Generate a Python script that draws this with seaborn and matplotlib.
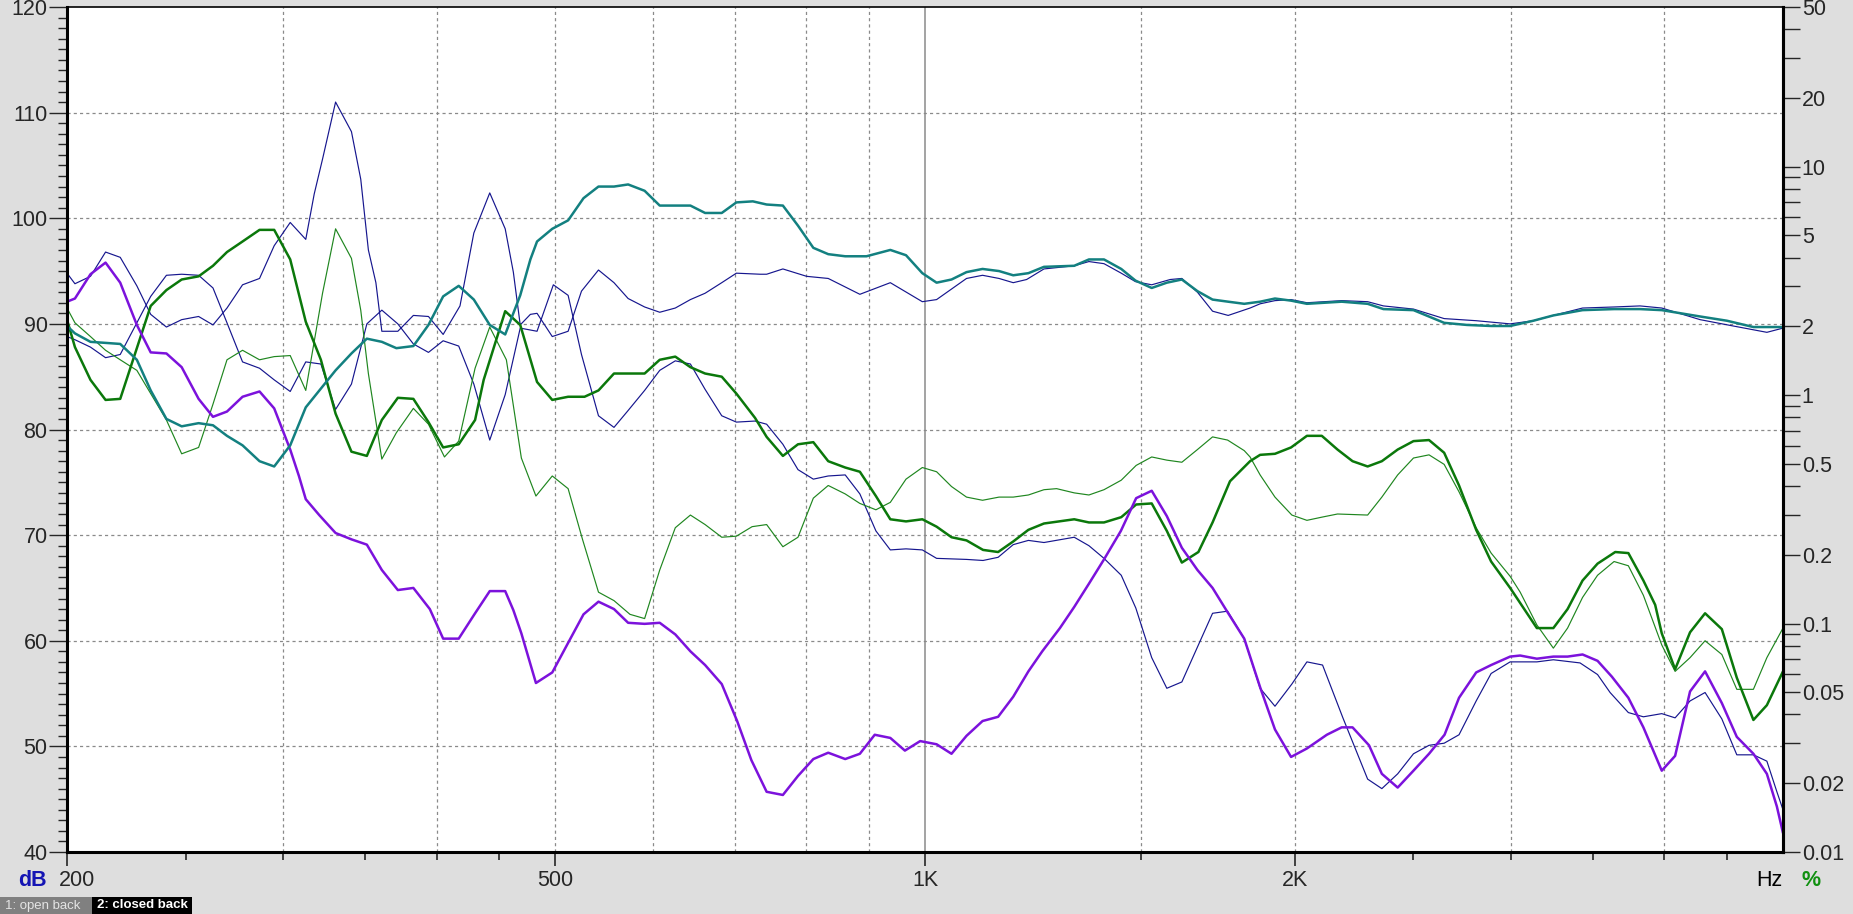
import matplotlib
matplotlib.use("Agg")
import matplotlib.pyplot as plt
import matplotlib.transforms as mtransforms
from matplotlib.patches import Rectangle
from matplotlib.ticker import FixedLocator, FixedFormatter, NullFormatter, MultipleLocator
import seaborn as sns
import pandas as pd

# closed back, response (teal, thick)
closed_resp_freq = [200, 203, 209, 215, 221, 228, 234, 241, 248, 256,
                    263, 270, 278, 287, 295, 304, 313, 331, 341, 351,
                    361, 371, 383, 394, 405, 417, 429, 442, 455, 468,
                    477, 483, 497, 512, 527, 542, 558, 573, 591, 608,
                    644, 662, 683, 702, 724, 743, 766, 788, 811, 834,
                    861, 896, 937, 965, 995, 1022, 1051, 1081, 1114, 1149,
                    1180, 1214, 1250, 1323, 1360, 1399, 1445, 1484, 1530, 1574,
                    1619, 1667, 1715, 1766, 1820, 1875, 1928, 1987, 2047, 2185,
                    2294, 2363, 2500, 2648, 2763, 2892, 2997, 3131, 3250, 3433,
                    3642, 3824, 3983, 4280, 4500, 4730, 5000]
closed_resp_db = [89.8, 89.1, 88.3, 88.2, 88.1, 86.6, 83.7, 81.0, 80.3, 80.6,
                  80.4, 79.4, 78.5, 77.0, 76.5, 78.5, 82.1, 85.6, 87.2, 88.6,
                  88.3, 87.7, 87.9, 89.9, 92.6, 93.6, 92.3, 89.9, 89.0, 92.7,
                  96.1, 97.8, 99.0, 99.8, 101.9, 103.0, 103.0, 103.2, 102.6, 101.2,
                  101.2, 100.5, 100.5, 101.5, 101.6, 101.3, 101.2, 99.3, 97.2, 96.6,
                  96.4, 96.4, 97.0, 96.5, 94.8, 93.9, 94.2, 94.9, 95.2, 95.0,
                  94.6, 94.8, 95.4, 95.5, 96.1, 96.1, 95.2, 94.1, 93.4, 93.9,
                  94.2, 93.1, 92.3, 92.1, 91.9, 92.1, 92.4, 92.2, 91.9, 92.1,
                  91.9, 91.4, 91.3, 90.1, 89.9, 89.8, 89.8, 90.3, 90.8, 91.3,
                  91.4, 91.4, 91.3, 90.7, 90.3, 89.7, 89.7]

# open back, response (navy, thin)
open_resp_freq = [200, 203, 209, 215, 221, 228, 234, 241, 248, 256,
                  263, 270, 278, 287, 295, 304, 313, 318, 323, 331,
                  341, 347, 352, 357, 361, 372, 383, 394, 405, 418,
                  429, 442, 455, 462, 468, 477, 483, 497, 512, 525,
                  542, 558, 573, 591, 608, 626, 644, 662, 683, 702,
                  734, 743, 766, 801, 834, 885, 937, 995, 1022, 1081,
                  1114, 1149, 1180, 1210, 1250, 1323, 1360, 1399, 1445, 1484,
                  1530, 1584, 1619, 1667, 1715, 1766, 1840, 1875, 1928, 1987,
                  2047, 2185, 2294, 2363, 2500, 2648, 2812, 2997, 3131, 3250,
                  3433, 3642, 3824, 3983, 4280, 4554, 4851, 5000]
open_resp_db = [94.8, 93.8, 94.5, 96.8, 96.3, 93.6, 90.9, 89.7, 90.4, 90.7,
                89.9, 91.5, 93.7, 94.3, 97.4, 99.6, 98.0, 102.3, 105.6, 111.0,
                108.2, 103.7, 97.0, 93.9, 89.3, 89.3, 90.8, 90.7, 89.0, 91.7,
                98.6, 102.4, 99.0, 94.9, 89.9, 90.9, 91.0, 88.8, 89.3, 93.1,
                95.1, 93.9, 92.4, 91.6, 91.1, 91.5, 92.3, 92.9, 93.9, 94.8,
                94.7, 94.7, 95.2, 94.5, 94.3, 92.8, 93.9, 92.1, 92.3, 94.3,
                94.6, 94.3, 93.9, 94.2, 95.2, 95.5, 95.9, 95.7, 94.8, 94.0,
                93.7, 94.2, 94.3, 93.0, 91.2, 90.8, 91.5, 91.9, 92.2, 92.3,
                92.0, 92.2, 92.1, 91.7, 91.4, 90.5, 90.3, 90.0, 90.3, 90.8,
                91.5, 91.6, 91.7, 91.5, 90.4, 89.8, 89.2, 89.6]

# open back, lower curve (navy, thin)
open_low_freq = [200, 203, 209, 215, 221, 228, 234, 241, 248, 256,
                 263, 270, 278, 287, 295, 304, 313, 322, 331, 341,
                 351, 361, 372, 383, 394, 405, 417, 429, 442, 455,
                 468, 483, 498, 512, 525, 542, 558, 573, 591, 608,
                 626, 644, 662, 683, 702, 727, 743, 766, 788, 811,
                 834, 861, 885, 912, 937, 965, 995, 1022, 1081, 1115,
                 1147, 1180, 1214, 1250, 1323, 1360, 1399, 1445, 1485, 1530,
                 1574, 1619, 1667, 1715, 1764, 1820, 1875, 1928, 1990, 2047,
                 2108, 2190, 2294, 2356, 2427, 2500, 2574, 2648, 2723, 2812,
                 2892, 2997, 3151, 3250, 3417, 3531, 3615, 3741, 3848, 3983,
                 4084, 4200, 4320, 4458, 4585, 4730, 4851, 4943, 5000]
open_low_db = [88.8, 88.5, 87.8, 86.8, 87.1, 90.1, 92.6, 94.6, 94.7, 94.6,
               93.4, 90.1, 86.4, 85.8, 84.7, 83.6, 86.4, 86.2, 81.9, 84.3,
               90.0, 91.3, 90.0, 88.1, 87.3, 88.4, 87.9, 84.3, 79.0, 83.3,
               89.6, 89.3, 93.7, 92.7, 87.1, 81.3, 80.2, 81.8, 83.7, 85.6,
               86.5, 86.2, 83.8, 81.3, 80.7, 80.8, 80.5, 78.6, 76.2, 75.3,
               75.6, 75.7, 73.9, 70.4, 68.6, 68.7, 68.6, 67.8, 67.7, 67.6,
               67.9, 69.1, 69.5, 69.3, 69.8, 69.0, 67.8, 66.2, 63.1, 58.4,
               55.5, 56.1, 59.4, 62.6, 62.8, 60.2, 55.5, 53.8, 55.9, 58.0,
               57.7, 52.7, 46.9, 46.0, 47.4, 49.3, 50.1, 50.3, 51.1, 54.3,
               56.9, 58.0, 58.0, 58.2, 57.9, 56.8, 55.1, 53.2, 52.8, 53.1,
               52.7, 54.3, 55.1, 52.6, 49.2, 49.2, 48.6, 45.7, 44.0]

# closed back, lower curve (purple, thick)
closed_low_freq = [200, 203, 209, 215, 221, 228, 234, 241, 248, 256,
                   263, 270, 278, 287, 295, 304, 309, 313, 321, 331,
                   341, 351, 361, 372, 383, 395, 405, 417, 430, 442,
                   455, 462, 469, 482, 497, 512, 527, 542, 558, 573,
                   591, 608, 626, 644, 662, 683, 703, 722, 743, 766,
                   788, 811, 834, 861, 885, 910, 937, 963, 991, 1022,
                   1051, 1081, 1114, 1147, 1180, 1214, 1246, 1288, 1323, 1360,
                   1399, 1444, 1486, 1530, 1574, 1619, 1667, 1715, 1764, 1820,
                   1875, 1928, 1987, 2047, 2125, 2185, 2230, 2300, 2356, 2427,
                   2500, 2574, 2650, 2723, 2812, 2892, 2997, 3054, 3151, 3250,
                   3338, 3433, 3531, 3627, 3741, 3848, 3983, 4084, 4200, 4320,
                   4458, 4585, 4730, 4851, 4943, 5000]
closed_low_db = [92.1, 92.4, 94.7, 95.8, 93.9, 89.9, 87.3, 87.2, 85.9, 82.9,
                 81.2, 81.7, 83.1, 83.6, 82.0, 78.1, 75.6, 73.4, 71.9, 70.2,
                 69.6, 69.1, 66.7, 64.8, 65.0, 63.0, 60.2, 60.2, 62.6, 64.7,
                 64.7, 62.9, 60.7, 56.0, 57.0, 59.8, 62.5, 63.7, 63.0, 61.7,
                 61.6, 61.7, 60.6, 59.0, 57.7, 55.9, 52.4, 48.7, 45.7, 45.4,
                 47.2, 48.8, 49.4, 48.8, 49.3, 51.1, 50.8, 49.6, 50.5, 50.2,
                 49.3, 51.0, 52.4, 52.8, 54.7, 57.1, 59.0, 61.2, 63.2, 65.4,
                 67.7, 70.4, 73.5, 74.2, 71.8, 68.8, 66.7, 65.0, 62.7, 60.2,
                 55.6, 51.6, 49.0, 49.8, 51.1, 51.8, 51.8, 50.1, 47.4, 46.1,
                 47.7, 49.3, 51.1, 54.6, 57.0, 57.7, 58.5, 58.6, 58.3, 58.5,
                 58.5, 58.7, 58.1, 56.6, 54.6, 51.8, 47.7, 49.1, 55.2, 57.1,
                 54.1, 50.9, 49.3, 47.4, 44.3, 41.8]

# closed back, green thick
closed_green_freq = [200, 203, 209, 215, 221, 228, 234, 241, 248, 256,
                     263, 270, 278, 287, 295, 304, 313, 322, 331, 341,
                     351, 361, 372, 383, 394, 405, 417, 430, 437, 455,
                     468, 483, 497, 512, 528, 542, 558, 573, 591, 608,
                     626, 644, 662, 683, 702, 727, 743, 766, 788, 811,
                     834, 861, 885, 912, 937, 965, 995, 1022, 1051, 1081,
                     1115, 1147, 1180, 1214, 1250, 1323, 1360, 1399, 1445, 1486,
                     1530, 1574, 1619, 1670, 1715, 1772, 1840, 1875, 1928, 1987,
                     2047, 2105, 2168, 2230, 2294, 2356, 2427, 2500, 2574, 2648,
                     2723, 2812, 2892, 2997, 3151, 3250, 3338, 3433, 3531, 3650,
                     3741, 3848, 3934, 3983, 4084, 4200, 4320, 4458, 4585, 4730,
                     4851, 5000]
closed_green_db = [90.4, 87.8, 84.7, 82.8, 82.9, 87.7, 91.7, 93.2, 94.2, 94.5,
                   95.5, 96.8, 97.8, 98.9, 98.9, 96.1, 90.2, 86.6, 81.5, 77.9,
                   77.5, 80.9, 83.0, 82.9, 80.7, 78.3, 78.6, 80.9, 84.7, 91.2,
                   89.9, 84.5, 82.8, 83.1, 83.1, 83.7, 85.3, 85.3, 85.3, 86.6,
                   86.9, 85.9, 85.3, 85.0, 83.4, 81.1, 79.3, 77.5, 78.6, 78.8,
                   77.0, 76.4, 76.0, 73.7, 71.5, 71.3, 71.5, 70.8, 69.8, 69.5,
                   68.6, 68.4, 69.4, 70.5, 71.1, 71.5, 71.2, 71.2, 71.7, 72.9,
                   73.0, 70.4, 67.4, 68.4, 71.2, 75.1, 77.0, 77.6, 77.7, 78.3,
                   79.4, 79.4, 78.1, 77.0, 76.5, 77.0, 78.1, 78.9, 79.0, 77.8,
                   74.7, 70.5, 67.5, 65.0, 61.2, 61.2, 63.0, 65.7, 67.3, 68.4,
                   68.3, 65.7, 63.4, 60.7, 57.3, 60.8, 62.6, 61.1, 56.5, 52.5,
                   53.9, 57.1]

# open back, green thin
open_green_freq = [200, 203, 209, 215, 221, 228, 234, 241, 248, 256,
                   263, 270, 278, 287, 295, 304, 313, 323, 331, 341,
                   347, 352, 361, 371, 383, 394, 406, 417, 430, 442,
                   456, 469, 482, 497, 512, 526, 542, 558, 575, 591,
                   608, 626, 644, 662, 683, 702, 723, 743, 766, 788,
                   811, 834, 861, 885, 912, 937, 965, 995, 1022, 1051,
                   1081, 1114, 1149, 1180, 1214, 1250, 1280, 1323, 1360, 1399,
                   1445, 1486, 1530, 1574, 1619, 1667, 1715, 1764, 1820, 1840,
                   1875, 1928, 1990, 2047, 2105, 2168, 2294, 2356, 2427, 2500,
                   2574, 2648, 2723, 2812, 2892, 2997, 3054, 3151, 3250, 3338,
                   3433, 3531, 3642, 3741, 3848, 3983, 4084, 4200, 4320, 4458,
                   4585, 4730, 4851, 5000]
open_green_db = [91.5, 90.1, 88.8, 87.5, 86.6, 85.6, 83.4, 80.9, 77.7, 78.3,
                 82.4, 86.6, 87.5, 86.6, 86.9, 87.0, 83.7, 92.9, 99.0, 96.2,
                 91.3, 85.3, 77.2, 79.7, 82.0, 80.5, 77.4, 78.9, 85.8, 89.7,
                 86.6, 77.3, 73.7, 75.6, 74.4, 69.6, 64.6, 63.8, 62.5, 62.1,
                 66.7, 70.7, 71.9, 71.0, 69.8, 69.9, 70.8, 71.0, 68.9, 69.8,
                 73.5, 74.7, 73.9, 73.0, 72.4, 73.1, 75.3, 76.4, 76.0, 74.6,
                 73.6, 73.3, 73.6, 73.6, 73.8, 74.3, 74.4, 74.0, 73.8, 74.3,
                 75.2, 76.6, 77.4, 77.1, 76.9, 78.1, 79.3, 79.0, 78.0, 77.4,
                 75.7, 73.6, 71.9, 71.4, 71.7, 72.0, 71.9, 73.6, 75.7, 77.3,
                 77.6, 76.7, 74.1, 70.7, 68.3, 66.1, 64.6, 61.5, 59.3, 61.2,
                 64.1, 66.2, 67.5, 67.1, 64.3, 59.6, 57.1, 58.4, 60.0, 58.7,
                 55.4, 55.4, 58.4, 61.2]

x_ticks = [200, 500, 1000, 2000]
x_labels = ["200", "500", "1K", "2K"]
x_minor = [250, 300, 350, 400, 450, 1500, 2500, 3000, 3500, 4000, 4500]
grid_freqs = [300, 400, 500, 600, 700, 800, 900, 1500, 2000, 3000, 4000]
pct_ticks = [0.01, 0.02, 0.05, 0.1, 0.2, 0.5, 1, 2, 5, 10, 20, 50]
pct_labels = ["0.01", "0.02", "0.05", "0.1", "0.2", "0.5", "1", "2", "5", "10", "20", "50"]
pct_minor = [0.03, 0.04, 0.06, 0.07, 0.08, 0.09, 0.3, 0.4, 0.6, 0.7, 0.8, 0.9,
             3, 4, 6, 7, 8, 9, 30, 40]

sns.set_style("white")
plt.rcParams["font.family"] = ["Liberation Sans", "DejaVu Sans"]

W, H = 1853, 914
fig = plt.figure(figsize=(W / 100, H / 100), dpi=100, facecolor="#dedede")
ax = fig.add_axes([67 / W, 1 - 852 / H, (1783 - 67) / W, (852 - 7) / H])
ax.set_facecolor("white")

series = [
    (open_low_freq, open_low_db, "#16168e", 0.85),
    (open_resp_freq, open_resp_db, "#16168e", 0.85),
    (open_green_freq, open_green_db, "#1f861f", 0.85),
    (closed_green_freq, closed_green_db, "#0b780b", 1.8),
    (closed_low_freq, closed_low_db, "#7c12dc", 1.8),
    (closed_resp_freq, closed_resp_db, "#138080", 1.8),
]
for f, v, c, lw in series:
    df = pd.DataFrame({"freq": f, "db": v})
    sns.lineplot(data=df, x="freq", y="db", color=c, linewidth=lw,
                 estimator=None, sort=False, ax=ax)

ax.set_xscale("log")
ax.set_xlim(200, 5000)
ax.set_ylim(40, 120)
ax.set_xlabel("")
ax.set_ylabel("")

grid_style = dict(color="#8a8a8a", lw=0.9, ls=(0, (2.5, 2.5)), zorder=0.5)
for f in grid_freqs:
    ax.axvline(f, **grid_style)
for d in range(50, 120, 10):
    ax.axhline(d, **grid_style)
ax.axvline(1000, color="#8a8a8a", lw=1.1, zorder=0.5)

ax.xaxis.set_major_locator(FixedLocator(x_ticks))
ax.xaxis.set_major_formatter(FixedFormatter(x_labels))
ax.xaxis.set_minor_locator(FixedLocator(x_minor))
ax.xaxis.set_minor_formatter(NullFormatter())
ax.yaxis.set_major_locator(MultipleLocator(10))
ax.yaxis.set_minor_locator(MultipleLocator(1))
ax.tick_params(axis="x", which="major", direction="out", length=10, width=1.2,
               pad=3, labelsize=15.5, bottom=True)
ax.tick_params(axis="x", which="minor", direction="out", length=6, width=1.2, bottom=True)
ax.tick_params(axis="y", which="major", direction="out", length=13, width=1,
               pad=1, labelsize=15.5, left=True)
ax.tick_params(axis="y", which="minor", direction="out", length=6.5, width=1, left=True)

first = ax.xaxis.get_major_ticks()[0].label1
first.set_transform(first.get_transform() +
                    mtransforms.ScaledTranslation(10 / 100, 0, fig.dpi_scale_trans))

for side in ["left", "bottom", "right"]:
    ax.spines[side].set_linewidth(2.2)
    ax.spines[side].set_color("black")
ax.spines["top"].set_linewidth(1.2)
ax.spines["top"].set_color("black")

ax2 = ax.twinx()
ax2.set_yscale("log")
ax2.set_ylim(0.01, 50)
ax2.yaxis.set_major_locator(FixedLocator(pct_ticks))
ax2.yaxis.set_major_formatter(FixedFormatter(pct_labels))
ax2.yaxis.set_minor_locator(FixedLocator(pct_minor))
ax2.yaxis.set_minor_formatter(NullFormatter())
ax2.tick_params(axis="y", which="both", direction="out", length=12, width=1,
                pad=1.5, labelsize=15.5, right=True)
for side in ["left", "bottom", "top"]:
    ax2.spines[side].set_visible(False)
ax2.spines["right"].set_linewidth(2.2)
ax2.spines["right"].set_color("black")

ty = 1 - 881 / H
fig.text(18 / W, ty, "dB", color="#1414b4", fontsize=15.5, fontweight="bold",
         va="center", ha="left")
fig.text(1782 / W, ty, "Hz", color="black", fontsize=15.5, va="center", ha="right")
fig.text(1802 / W, ty, "%", color="#109010", fontsize=15.5, fontweight="bold",
         va="center", ha="left")

fig.patches.append(Rectangle((0, 0), 92 / W, 17 / H, transform=fig.transFigure,
                             facecolor="#808080", edgecolor="none"))
fig.patches.append(Rectangle((92 / W, 0), 100 / W, 17 / H, transform=fig.transFigure,
                             facecolor="black", edgecolor="none"))
fig.text(5 / W, 8.5 / H, "1: open back", color="#e4e4e4", fontsize=9.5, va="center")
fig.text(97 / W, 8.5 / H, "2: closed back", color="white", fontsize=9.5,
         fontweight="bold", va="center")

fig.savefig("out.png", dpi=100, facecolor=fig.get_facecolor())
